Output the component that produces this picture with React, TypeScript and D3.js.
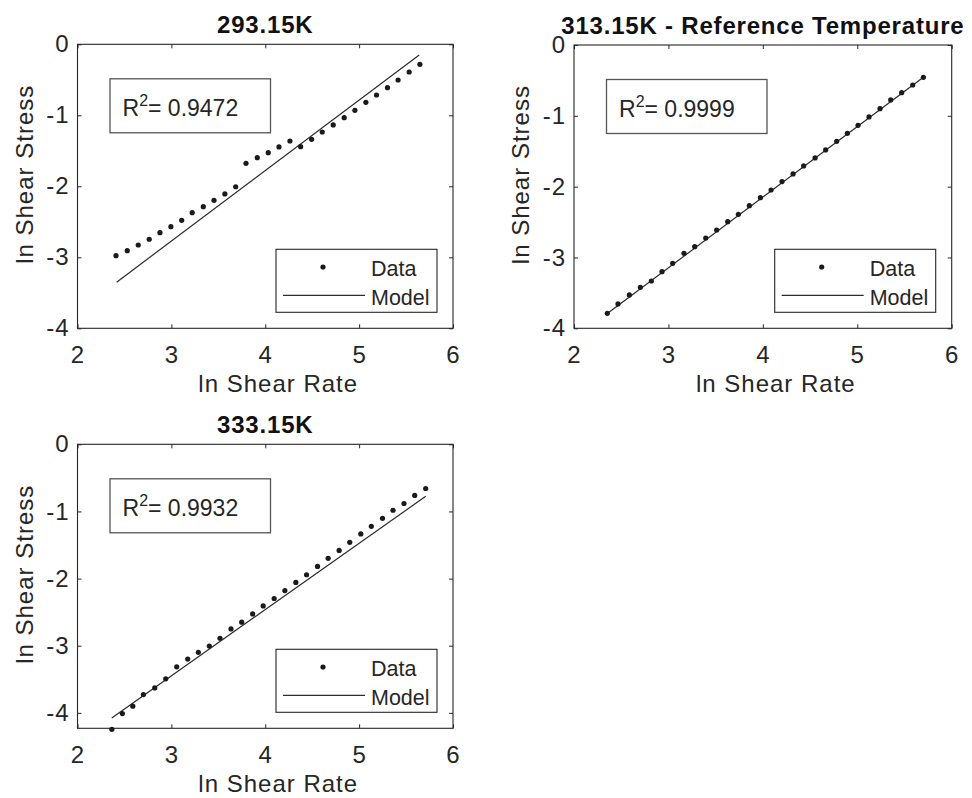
import React, { useRef, useEffect } from "react";
import * as d3 from "d3";

const titles = ["293.15K", "313.15K - Reference Temperature", "333.15K"];
const r2Values = ["0.9472", "0.9999", "0.9932"];
const legendLabels = ["Data", "Model"];
const xLabel = "ln Shear Rate";
const yLabel = "ln Shear Stress";

const xTicks = [2, 3, 4, 5, 6];
const yTicks = [0, -1, -2, -3, -4];
const yMins = [-4, -4, -4.23];

// 293.15K
const x293 = [2.41, 2.53, 2.647, 2.764, 2.878, 2.995, 3.11, 3.222, 3.34, 3.454, 3.57, 3.685, 3.795, 3.915, 4.032, 4.146, 4.263, 4.377, 4.494, 4.607, 4.724, 4.841, 4.955, 5.072, 5.185, 5.302, 5.415, 5.533, 5.647];
const y293 = [-2.977, -2.907, -2.827, -2.746, -2.653, -2.569, -2.479, -2.372, -2.287, -2.197, -2.108, -2.006, -1.676, -1.597, -1.527, -1.446, -1.362, -1.442, -1.338, -1.235, -1.136, -1.034, -0.93, -0.817, -0.714, -0.611, -0.503, -0.39, -0.282];
const model293X = [2.417, 5.64];
const model293Y = [-3.35, -0.15];

// 313.15K
const x313 = [2.353, 2.466, 2.586, 2.703, 2.819, 2.932, 3.045, 3.165, 3.278, 3.395, 3.511, 3.628, 3.741, 3.857, 3.974, 4.087, 4.203, 4.32, 4.432, 4.553, 4.665, 4.782, 4.895, 5.008, 5.124, 5.241, 5.354, 5.47, 5.587, 5.7];
const y313 = [-3.788, -3.656, -3.529, -3.421, -3.332, -3.2, -3.082, -2.941, -2.847, -2.725, -2.612, -2.494, -2.391, -2.268, -2.155, -2.047, -1.929, -1.821, -1.708, -1.595, -1.482, -1.36, -1.247, -1.134, -1.016, -0.899, -0.776, -0.673, -0.565, -0.456];
const model313X = [2.353, 5.7];
const model313Y = [-3.79, -0.456];

// 333.15K
const x333 = [2.366, 2.478, 2.589, 2.702, 2.823, 2.94, 3.057, 3.174, 3.287, 3.404, 3.518, 3.635, 3.749, 3.866, 3.978, 4.095, 4.209, 4.326, 4.44, 4.557, 4.67, 4.787, 4.9, 5.018, 5.13, 5.249, 5.361, 5.478, 5.592, 5.709];
const y333 = [-4.245, -4.01, -3.9, -3.727, -3.628, -3.493, -3.314, -3.199, -3.099, -3.004, -2.889, -2.75, -2.65, -2.526, -2.407, -2.297, -2.178, -2.058, -1.943, -1.819, -1.699, -1.58, -1.46, -1.335, -1.221, -1.102, -0.982, -0.882, -0.762, -0.658];
const model333X = [2.365, 5.709];
const model333Y = [-4.075, -0.775];

const dataX = [x293, x313, x333];
const dataY = [y293, y313, y333];
const modelX = [model293X, model313X, model333X];
const modelY = [model293Y, model313Y, model333Y];

// subplot rectangles (px)
const boxes = [
  { left: 77.5, top: 44.3, width: 375.5, height: 284 },
  { left: 574, top: 45, width: 377.7, height: 283.3 },
  { left: 77.5, top: 444.3, width: 375.5, height: 284 },
];

const FONT = "'Liberation Sans', Arial, Helvetica, sans-serif";
const INK = "#262626";

const App = () => {
  const ref = useRef(null);

  useEffect(() => {
    const svg = d3.select(ref.current);
    svg.selectAll("*").remove();
    svg.append("rect").attr("width", 972).attr("height", 798).attr("fill", "#fff");

    boxes.forEach((b, i) => {
      const x = d3.scaleLinear().domain([2, 6]).range([0, b.width]);
      const y = d3.scaleLinear().domain([yMins[i], 0]).range([b.height, 0]);

      const g = svg.append("g").attr("transform", `translate(${b.left},${b.top})`);

      const fmt = (d) => String(d);
      const styleAxis = (sel) => {
        sel.select(".domain").remove();
        sel.selectAll("line").attr("stroke", INK);
        sel.selectAll("text")
          .attr("fill", INK)
          .style("font-family", FONT)
          .style("font-size", "24px")
          .style("letter-spacing", "1px");
      };

      g.append("g").attr("transform", `translate(0,${b.height})`)
        .call(d3.axisBottom(x).tickValues(xTicks).tickSize(-4).tickPadding(18).tickFormat(fmt))
        .call(styleAxis);
      g.append("g")
        .call(d3.axisLeft(y).tickValues(yTicks).tickSize(-4).tickPadding(8).tickFormat(fmt))
        .call(styleAxis);
      g.append("g")
        .call(d3.axisTop(x).tickValues(xTicks).tickSize(-4).tickFormat(() => ""))
        .call(styleAxis);
      g.append("g").attr("transform", `translate(${b.width},0)`)
        .call(d3.axisRight(y).tickValues(yTicks).tickSize(-4).tickFormat(() => ""))
        .call(styleAxis);

      g.append("rect")
        .attr("width", b.width)
        .attr("height", b.height)
        .attr("fill", "none")
        .attr("stroke", INK)
        .attr("stroke-width", 1.1);

      // model line
      const line = d3.line().x(d => x(d[0])).y(d => y(d[1]));
      g.append("path")
        .datum(modelX[i].map((v, k) => [v, modelY[i][k]]))
        .attr("fill", "none")
        .attr("stroke", "#2b2b2b")
        .attr("stroke-width", 1.2)
        .attr("d", line);

      // data dots
      g.selectAll(".dot")
        .data(dataX[i].map((v, k) => [v, dataY[i][k]]))
        .join("circle")
        .attr("cx", d => x(d[0]))
        .attr("cy", d => y(d[1]))
        .attr("r", 2.6)
        .attr("fill", "#1a1a1a");

      // title
      g.append("text")
        .attr("x", b.width / 2)
        .attr("y", -11)
        .attr("text-anchor", "middle")
        .attr("fill", "#111")
        .style("font-family", FONT)
        .style("font-size", "24px")
        .style("font-weight", "bold")
        .style("letter-spacing", "0.8px")
        .text(titles[i]);

      // axis labels
      g.append("text")
        .attr("x", b.width / 2 + 13)
        .attr("y", b.height + 64)
        .attr("text-anchor", "middle")
        .attr("fill", INK)
        .style("font-family", FONT)
        .style("font-size", "24px")
        .style("letter-spacing", "1px")
        .text(xLabel);
      g.append("text")
        .attr("transform", `translate(-45,${b.height / 2 - 12}) rotate(-90)`)
        .attr("text-anchor", "middle")
        .attr("fill", INK)
        .style("font-family", FONT)
        .style("font-size", "24px")
        .style("letter-spacing", "1px")
        .text(yLabel);

      // R^2 annotation
      const ann = g.append("g").attr("transform", "translate(32.5,34.5)");
      ann.append("rect")
        .attr("width", 160.5)
        .attr("height", 54)
        .attr("fill", "#fff")
        .attr("stroke", "#555")
        .attr("stroke-width", 1.3);
      const t = ann.append("text")
        .attr("x", 12.5)
        .attr("y", 37)
        .attr("fill", INK)
        .style("font-family", FONT)
        .style("font-size", "23px");
      t.append("tspan").text("R");
      t.append("tspan").attr("dy", -10).style("font-size", "16px").text("2");
      t.append("tspan").attr("dy", 10).text(`= ${r2Values[i]}`);

      // legend
      const lw = 161, lh = 63;
      const lg = g.append("g").attr("transform", `translate(${b.width - 16 - lw},${b.height - 16 - lh})`);
      lg.append("rect")
        .attr("width", lw)
        .attr("height", lh)
        .attr("fill", "#fff")
        .attr("stroke", INK)
        .attr("stroke-width", 1.1);
      lg.append("circle").attr("cx", 47).attr("cy", 17.7).attr("r", 2.6).attr("fill", "#1a1a1a");
      lg.append("line")
        .attr("x1", 7).attr("x2", 89)
        .attr("y1", 46).attr("y2", 46)
        .attr("stroke", "#2b2b2b")
        .attr("stroke-width", 1.2);
      legendLabels.forEach((lab, k) => {
        lg.append("text")
          .attr("x", 95)
          .attr("y", k === 0 ? 26.5 : 55.5)
          .attr("fill", INK)
          .style("font-family", FONT)
          .style("font-size", "21.5px")
          .text(lab);
      });
    });
  }, []);

  return (
    <svg
      ref={ref}
      width={972}
      height={798}
      style={{ position: "absolute", left: 0, top: 0 }}
    ></svg>
  );
};

export default App;
